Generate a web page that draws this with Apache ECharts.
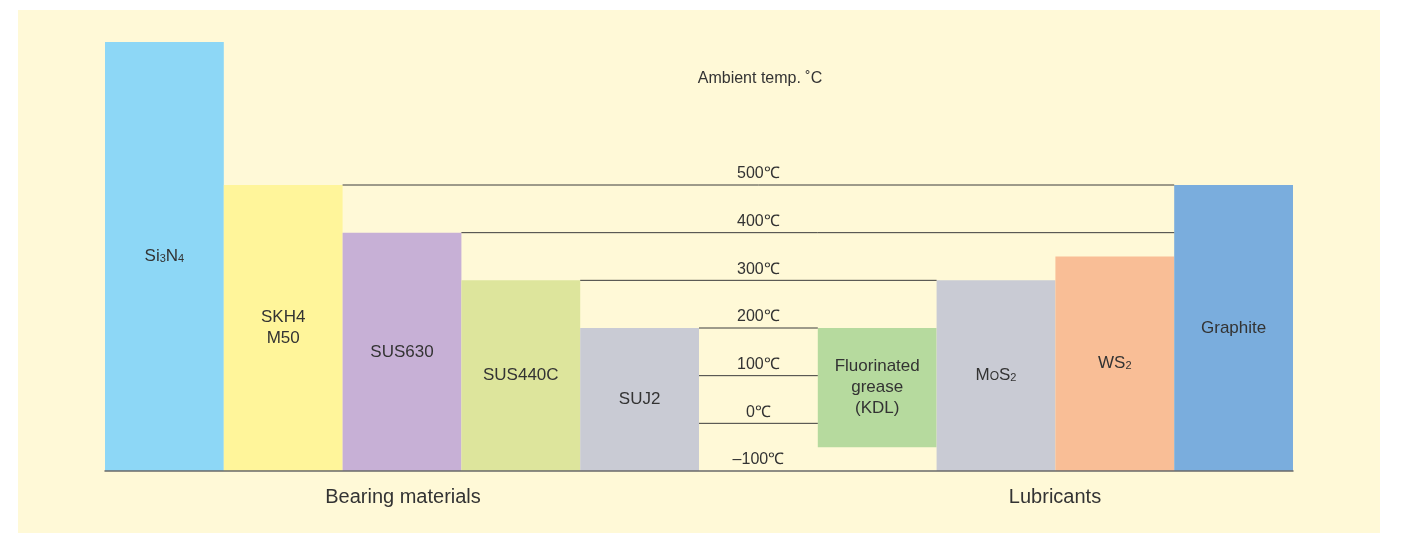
<!DOCTYPE html>
<html>
<head>
<meta charset="utf-8">
<script src="https://cdn.jsdelivr.net/npm/echarts@6/dist/echarts.min.js"></script>
<style>
  html, body { margin: 0; padding: 0; background: #ffffff; }
  #chart { width: 1420px; height: 533px; }
</style>
</head>
<body>
<div id="chart"></div>
<script>
// columns of the chart; index 5 is the empty column that carries the level labels
const categories = ['Si3N4', 'SKH4/M50', 'SUS630', 'SUS440C', 'SUJ2', '', 'Fluorinated grease (KDL)', 'MoS2', 'WS2', 'Graphite']
const barLow = [-100, -100, -100, -100, -100, null, -50, -100, -100, -100]
const barHigh = [800, 500, 400, 300, 200, null, 200, 300, 350, 500]
const barColors = ['#8dd7f6', '#fff59a', '#c7b0d6', '#dde59c', '#c9cbd4', null, '#b6da9e', '#c9cbd4', '#f9be96', '#7aaddd']
const barLabels = [
  'Si{sub|3}N{sub|4}',
  'SKH4\nM50',
  'SUS630',
  'SUS440C',
  'SUJ2',
  '',
  'Fluorinated\ngrease\n(KDL)',
  'M{mo|O}S{sub|2}',
  'WS{sub|2}',
  'Graphite',
]

// temperature levels: value, first and last column the line spans (null = no line)
const levels = [500, 400, 300, 200, 100, 0, -100]
const levelFrom = [2, 3, 4, 5, 5, 5, null]
const levelTo = [8, 8, 6, 5, 5, 5, null]
const levelLabels = ['500℃', '400℃', '300℃', '200℃', '100℃', '0℃', '–100℃']
const labelColumn = 5

const FONT = '"Liberation Sans", Arial, Helvetica, sans-serif'

const chart = echarts.init(document.getElementById('chart'))

const barData = categories
  .map((name, i) => ({ value: [i, barLow[i], barHigh[i]], idx: i }))
  .filter(d => barLow[d.idx] !== null)

const levelData = levels.map((v, i) => [v, levelFrom[i], levelTo[i], i])

chart.setOption({
  animation: false,
  backgroundColor: '#ffffff',
  graphic: [
    {
      type: 'rect',
      z: -10,
      silent: true,
      shape: { x: 18, y: 10, width: 1362, height: 523 },
      style: { fill: '#fff9d7' },
    },
    {
      type: 'text',
      x: 760, y: 79,
      style: { text: 'Ambient temp. ˚C', font: '16px ' + FONT, fill: '#333', align: 'center', verticalAlign: 'middle' },
    },
    {
      type: 'text',
      x: 403, y: 497,
      style: { text: 'Bearing materials', font: '20px ' + FONT, fill: '#333', align: 'center', verticalAlign: 'middle' },
    },
    {
      type: 'text',
      x: 1055, y: 497,
      style: { text: 'Lubricants', font: '20px ' + FONT, fill: '#333', align: 'center', verticalAlign: 'middle' },
    },
  ],
  grid: { left: 105, right: 127, top: 42, bottom: 62 },
  xAxis: {
    type: 'category',
    data: categories,
    boundaryGap: true,
    axisLine: { onZero: false, lineStyle: { color: '#6a6a6a', width: 1.5 } },
    axisTick: { show: false },
    axisLabel: { show: false },
    splitLine: { show: false },
    z: 10,
  },
  yAxis: {
    type: 'value',
    min: -100,
    max: 800,
    interval: 100,
    axisLine: { show: false },
    axisTick: { show: false },
    axisLabel: { show: false },
    splitLine: { show: false },
  },
  series: [
    {
      type: 'custom',
      name: 'bars',
      data: barData,
      encode: { x: 0, y: [1, 2] },
      renderItem: (params, api) => {
        const i = api.value(0)
        const top = api.coord([i, api.value(2)])
        const bottom = api.coord([i, api.value(1)])
        const w = api.size([1, 0])[0]
        return {
          type: 'rect',
          shape: { x: top[0] - w / 2, y: top[1], width: w, height: bottom[1] - top[1] },
          style: { fill: barColors[i] },
          textContent: {
            style: {
              text: barLabels[i],
              font: '17px ' + FONT,
              fill: '#333',
              align: 'center',
              verticalAlign: 'middle',
              lineHeight: 21,
              rich: {
                sub: { fontSize: 11, fontFamily: FONT, fill: '#333', verticalAlign: 'middle', padding: [4, 0, 0, 0] },
                mo: { fontSize: 12, fontFamily: FONT, fill: '#333', verticalAlign: 'middle', padding: [3, 0, 0, 0] },
              },
            },
          },
          textConfig: { position: 'inside' },
        }
      },
    },
    {
      type: 'custom',
      name: 'levels',
      data: levelData,
      encode: { y: 0 },
      z: 5,
      renderItem: (params, api) => {
        const v = api.value(0)
        const k = api.value(3)
        const w = api.size([1, 0])[0]
        const mid = api.coord([labelColumn, v])
        const children = [
          {
            type: 'text',
            style: {
              text: levelLabels[k],
              x: mid[0],
              y: mid[1] - 11,
              font: '16px ' + FONT,
              fill: '#333',
              align: 'center',
              verticalAlign: 'middle',
            },
          },
        ]
        if (levelFrom[k] !== null) {
          const a = api.coord([levelFrom[k], v])
          const b = api.coord([levelTo[k], v])
          children.push({
            type: 'line',
            shape: { x1: a[0] - w / 2, y1: a[1], x2: b[0] + w / 2, y2: b[1] },
            style: { stroke: '#3c3c3c', lineWidth: 1 },
          })
        }
        return { type: 'group', children }
      },
    },
  ],
})
</script>
</body>
</html>
